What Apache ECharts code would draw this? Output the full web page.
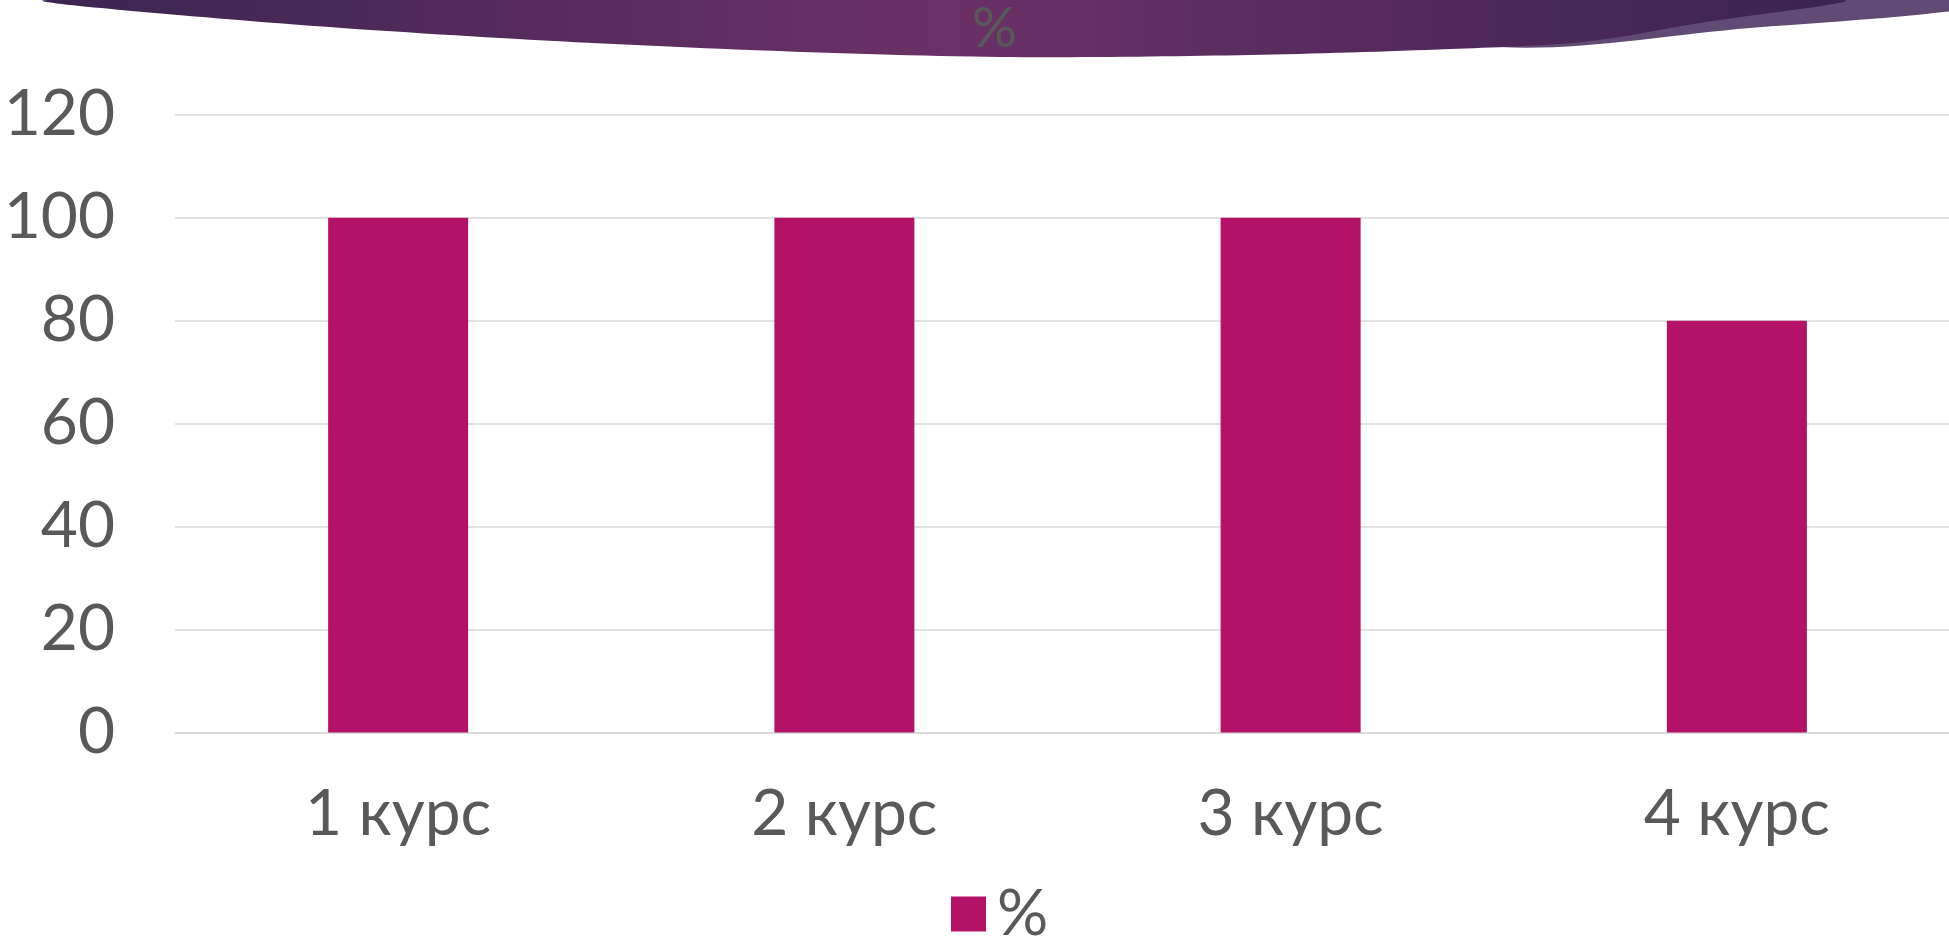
<!DOCTYPE html>
<html>
<head>
<meta charset="utf-8">
<script src="https://cdn.jsdelivr.net/npm/echarts@6/dist/echarts.min.js"></script>
<style>
  html, body { margin: 0; padding: 0; background: #fff; overflow: hidden; }
  /* область графика немного шире окна — правый край сетки срезан, как на слайде */
  #chart { width: 1960px; height: 940px; }
</style>
</head>
<body>
<div id="chart"></div>
<script>
  const categories = ['1 курс', '2 курс', '3 курс', '4 курс']
  const percents = [100, 100, 100, 80]
  const seriesName = '%'
  const yTicks = { min: 0, max: 120, interval: 20 }

  const font = "'Century Gothic', 'URW Gothic', Lato, 'Noto Sans', sans-serif"
  const grey = '#595959'

  // декоративная дуга сверху (как в слайде)
  const arcEdge = [[50, 0], [250, 21], [500, 38], [750, 50], [1000, 57], [1250, 55], [1500, 47], [1750, 28], [1960, 10]]
  const darkEdge = [[50, 0], [250, 21], [500, 38], [750, 50], [1000, 57], [1250, 55], [1450, 49], [1583, 42], [1700, 23], [1840, 0]]

  const mychart = echarts.init(document.getElementById('chart'))
  const option = {
    animation: false,
    graphic: [
      {
        type: 'polygon',
        z: 0,
        shape: { points: [[1300, 0]].concat(arcEdge.filter(p => p[0] >= 1300)).concat([[1960, 0]]), smooth: 0.3 },
        style: { fill: '#604b74' }
      },
      {
        type: 'polygon',
        z: 1,
        shape: { points: darkEdge, smooth: 0.3 },
        style: {
          fill: new echarts.graphic.LinearGradient(0, 0, 1, 0, [
            { offset: 0, color: '#3a2551' },
            { offset: 0.5, color: '#6c3166' },
            { offset: 1, color: '#3a2451' }
          ])
        }
      },
      {
        type: 'text',
        z: 2,
        left: 972,
        top: 1,
        style: { text: '%', font: '56px ' + font, fill: grey }
      }
    ],
    grid: {
      left: 175,
      right: 0,
      top: 114.7,
      bottom: 207.5
    },
    legend: {
      data: [seriesName],
      left: 946,
      top: 877,
      icon: 'rect',
      itemWidth: 35,
      itemHeight: 35,
      itemGap: 10,
      textStyle: { fontSize: 64, fontFamily: font, color: grey, padding: [0, 0, 0, 6] }
    },
    xAxis: {
      type: 'category',
      data: categories,
      axisLine: { show: true, lineStyle: { color: '#d9d9d9', width: 1.5 } },
      axisTick: { show: false },
      axisLabel: { fontSize: 64, fontFamily: font, color: grey, margin: 50 }
    },
    yAxis: {
      type: 'value',
      min: yTicks.min,
      max: yTicks.max,
      interval: yTicks.interval,
      axisLine: { show: false },
      axisTick: { show: false },
      splitLine: { lineStyle: { color: '#d9d9d9', width: 1.5 } },
      axisLabel: { fontSize: 64, fontFamily: font, color: grey, margin: 60 }
    },
    series: [
      {
        name: seriesName,
        type: 'bar',
        data: percents,
        barWidth: 140,
        itemStyle: { color: '#b31266' }
      }
    ]
  }
  mychart.setOption(option)
</script>
</body>
</html>
